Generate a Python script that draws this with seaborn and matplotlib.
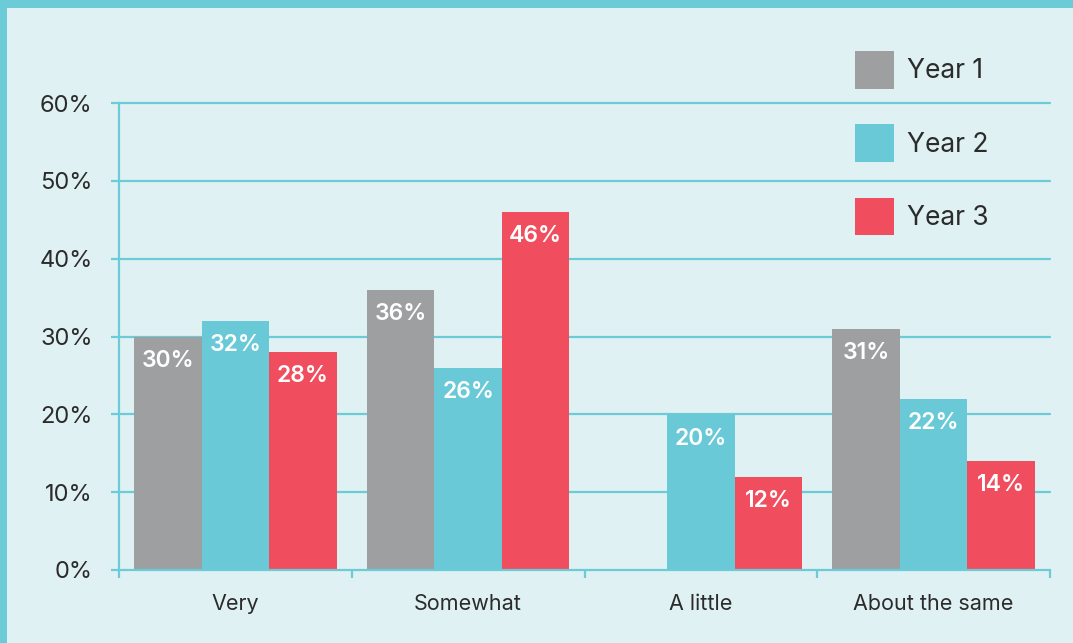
import numpy as np
import pandas as pd
import matplotlib
matplotlib.use("Agg")
import matplotlib.pyplot as plt
from matplotlib.patches import Rectangle, Patch
from matplotlib.ticker import FixedLocator
import seaborn as sns

# --- data -------------------------------------------------------------
categories = ["Very", "Somewhat", "A little", "About the same"]
years = ["Year 1", "Year 2", "Year 3"]
year1 = [30, 36, np.nan, 31]
year2 = [32, 26, 20, 22]
year3 = [28, 46, 12, 14]
y_ticks = [0, 10, 20, 30, 40, 50, 60]

# --- style ------------------------------------------------------------
BG = "#e0f1f4"
TEAL = "#6bccd8"
TEXT = "#2b2b2b"
palette = ["#9e9fa1", "#69c9d6", "#f04e5e"]

sns.set_style("white")
plt.rcParams["font.family"] = ["Inter", "DejaVu Sans"]

df = pd.DataFrame({
    "category": categories * 3,
    "year": [y for y in years for _ in categories],
    "value": year1 + year2 + year3,
})

fig = plt.figure(figsize=(10.73, 6.43), dpi=100, facecolor=BG)
ax = fig.add_axes([119 / 1073, 1 - 570 / 643, (1050 - 119) / 1073, (570 - 103) / 643])
ax.set_facecolor(BG)

# frame bands along the top and left edges
fig.patches.append(Rectangle((0, 1 - 8 / 643), 1, 8 / 643, transform=fig.transFigure,
                             facecolor=TEAL, edgecolor="none", zorder=0))
fig.patches.append(Rectangle((0, 0), 7 / 1073, 1, transform=fig.transFigure,
                             facecolor=TEAL, edgecolor="none", zorder=0))

sns.barplot(data=df, x="category", y="value", hue="year", order=categories,
            hue_order=years, palette=palette, saturation=1, width=0.87,
            linewidth=0, edgecolor="none", ax=ax, zorder=3)

# value labels inside the top of each bar
for container in ax.containers:
    for bar in container:
        h = bar.get_height()
        if h is None or np.isnan(h) or h == 0:
            continue
        ax.annotate(f"{h:.0f}%", (bar.get_x() + bar.get_width() / 2, h),
                    xytext=(0, -17.5), textcoords="offset points",
                    ha="center", va="center", color="white",
                    fontsize=16.5, fontweight="semibold", zorder=4)

ax.set_xlim(-0.5, len(categories) - 0.5)
ax.set_ylim(0, 60)
ax.set_yticks(y_ticks)
ax.set_yticklabels([f"{t}%" for t in y_ticks])
ax.set_xlabel("")
ax.set_ylabel("")

# grid lines
for t in y_ticks[1:]:
    ax.axhline(t, color=TEAL, lw=1.6, zorder=1, clip_on=False)

for side in ["top", "right"]:
    ax.spines[side].set_visible(False)
for side in ["left", "bottom"]:
    ax.spines[side].set_color(TEAL)
    ax.spines[side].set_linewidth(1.6)
    ax.spines[side].set_zorder(5)

ax.tick_params(axis="y", which="major", length=6, width=1.6, color=TEAL,
               pad=13, labelsize=17, labelcolor=TEXT, left=True)
ax.tick_params(axis="x", which="major", length=0, pad=17, labelsize=15.5,
               labelcolor=TEXT)
ax.xaxis.set_minor_locator(FixedLocator(np.arange(-0.5, len(categories), 1.0)))
ax.tick_params(axis="x", which="minor", length=6, width=1.6, color=TEAL,
               bottom=True, direction="out")

# legend
ax.get_legend().remove()
handles = [Patch(facecolor=c, edgecolor="none") for c in palette]
fig.legend(handles, years, loc="upper left",
           bbox_to_anchor=(855 / 1073, 1 - 51 / 643),
           frameon=False, fontsize=19, labelcolor=TEXT,
           handlelength=1.47, handleheight=1.82, handletextpad=0.5,
           labelspacing=1.35, borderpad=0, borderaxespad=0)

fig.savefig("out.png", dpi=100, facecolor=BG)
